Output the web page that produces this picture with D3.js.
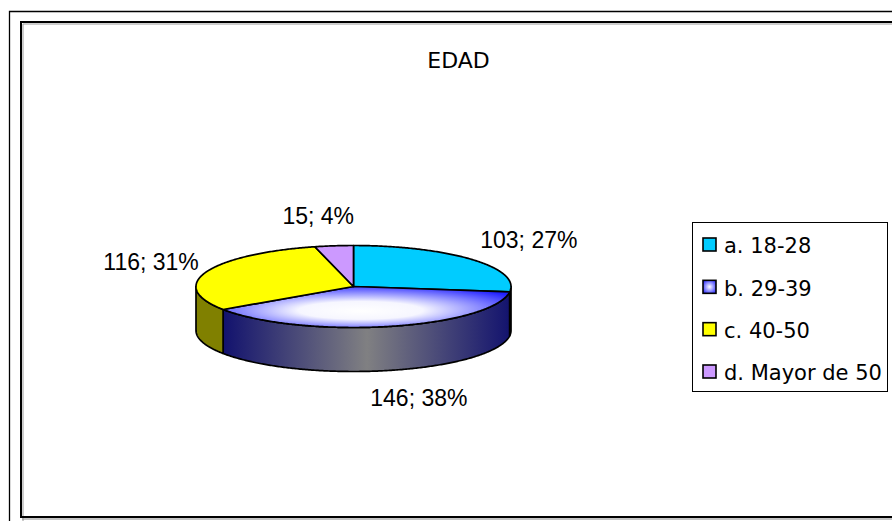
<!DOCTYPE html>
<html>
<head>
<meta charset="utf-8">
<script src="https://cdn.jsdelivr.net/npm/d3@7"></script>
<style>
  html, body { margin: 0; padding: 0; background: #ffffff; }
  svg { display: block; }
</style>
</head>
<body>
<svg id="chart" width="892" height="521"></svg>
<script>
// ---- data ----
const title = "EDAD";
const categories = ["a. 18-28", "b. 29-39", "c. 40-50", "d. Mayor de 50"];
const values = [103, 146, 116, 15];
const topColors = ["#00ccff", "url(#gradBTop)", "#ffff00", "#cc99ff"];
const sideColors = ["#007a99", "url(#gradBSide)", "#808000", "#66507f"];
const legendColors = ["#00ccff", "url(#gradBLegend)", "#ffff00", "#cc99ff"];

// ---- layout ----
const W = 892, H = 521;
const svg = d3.select("#chart");
const cx = 353.5, cy = 286.5, rx = 157.5, ry = 41, depth = 44;

const defs = svg.append("defs");
const gTop = defs.append("radialGradient").attr("id", "gradBTop")
  .attr("cx", 0.48).attr("cy", 0.55).attr("r", 0.62).attr("fx", 0.48).attr("fy", 0.6);
gTop.append("stop").attr("offset", "0%").attr("stop-color", "#ffffff");
gTop.append("stop").attr("offset", "35%").attr("stop-color", "#f6f6ff");
gTop.append("stop").attr("offset", "100%").attr("stop-color", "#2020ff");

const gSide = defs.append("linearGradient").attr("id", "gradBSide")
  .attr("gradientUnits", "userSpaceOnUse")
  .attr("x1", 223).attr("x2", 511).attr("y1", 0).attr("y2", 0);
gSide.append("stop").attr("offset", "0%").attr("stop-color", "#12126e");
gSide.append("stop").attr("offset", "50%").attr("stop-color", "#808082");
gSide.append("stop").attr("offset", "100%").attr("stop-color", "#12126e");

const gLeg = defs.append("radialGradient").attr("id", "gradBLegend")
  .attr("cx", 0.5).attr("cy", 0.5).attr("r", 0.6);
gLeg.append("stop").attr("offset", "0%").attr("stop-color", "#ffffff");
gLeg.append("stop").attr("offset", "100%").attr("stop-color", "#3333ff");

// ---- frames ----
svg.append("path").attr("d", `M9.5,${H} V11.5 H${W}`)
  .attr("fill", "none").attr("stroke", "#000").attr("stroke-width", 1.3);
svg.append("path").attr("d", `M23,${H} V24 H${W}`)
  .attr("fill", "none").attr("stroke", "#9a9a9a").attr("stroke-width", 1);
svg.append("rect").attr("x", 21).attr("y", 22).attr("width", 900).attr("height", 495)
  .attr("fill", "none").attr("stroke", "#000").attr("stroke-width", 2);
svg.append("line").attr("x1", 22).attr("x2", W).attr("y1", 519).attr("y2", 519)
  .attr("stroke", "#8a8a8a").attr("stroke-width", 1);

// ---- title ----
svg.append("text").attr("x", 458.5).attr("y", 68)
  .attr("text-anchor", "middle")
  .attr("font-family", "DejaVu Sans, sans-serif").attr("font-size", 22)
  .attr("fill", "#000").text(title);

// ---- pie ----
const pie = d3.pie().sort(null).value(d => d);
const arcs = pie(values);
const total = d3.sum(values);
const pct = d3.format(".0%");

const px = t => cx + rx * Math.sin(t);
const py = t => cy - ry * Math.cos(t);
const line = d3.line();

function samples(a0, a1) {
  const n = Math.max(2, Math.ceil(Math.abs(a1 - a0) / 0.01));
  return d3.range(n + 1).map(i => a0 + (a1 - a0) * i / n);
}

const gPie = svg.append("g");

// sides (front half only)
arcs.forEach((a, i) => {
  const s = Math.max(a.startAngle, Math.PI / 2);
  const e = Math.min(a.endAngle, 3 * Math.PI / 2);
  if (e <= s) return;
  const topPts = samples(s, e).map(t => [px(t), py(t)]);
  const botPts = samples(e, s).map(t => [px(t), py(t) + depth]);
  gPie.append("path")
    .attr("d", line(topPts.concat(botPts)) + "Z")
    .attr("fill", sideColors[i])
    .attr("stroke", "#000").attr("stroke-width", 1.7).attr("stroke-linejoin", "round");
});

// tops
arcs.forEach((a, i) => {
  const pts = [[cx, cy]].concat(samples(a.startAngle, a.endAngle).map(t => [px(t), py(t)]));
  gPie.append("path")
    .attr("d", line(pts) + "Z")
    .attr("fill", topColors[i])
    .attr("stroke", "#000").attr("stroke-width", 1.7).attr("stroke-linejoin", "round");
});

// labels
arcs.forEach((a, i) => {
  const m = (a.startAngle + a.endAngle) / 2;
  const s = Math.sin(m), c = Math.cos(m);
  let x, anchor;
  if (s > 0.5) { x = cx + (rx + 11) * s; anchor = "start"; }
  else if (s < -0.5) { x = cx + (rx + 8) * s; anchor = "end"; }
  else { x = cx + 285 * s; anchor = "middle"; }
  const y = cy - 71 * c + (c < 0 ? depth - 2 : 0);
  svg.append("text")
    .attr("x", x).attr("y", y).attr("dy", "0.36em")
    .attr("text-anchor", anchor)
    .attr("font-family", "Liberation Sans, Arial, sans-serif").attr("font-size", 23)
    .attr("fill", "#000")
    .text(`${values[i]}; ${pct(values[i] / total)}`);
});

// ---- legend ----
const legend = svg.append("g");
legend.append("rect").attr("x", 692.5).attr("y", 222.5).attr("width", 195).attr("height", 169)
  .attr("fill", "#fff").attr("stroke", "#000").attr("stroke-width", 1);
const ly = d3.scalePoint().domain(categories).range([245, 372]);
categories.forEach((cat, i) => {
  legend.append("rect").attr("x", 703).attr("y", ly(cat) - 7).attr("width", 13).attr("height", 13)
    .attr("fill", legendColors[i]).attr("stroke", "#000").attr("stroke-width", 1.6);
  legend.append("text").attr("x", 724).attr("y", ly(cat) + 8.3)
    .attr("font-family", "DejaVu Sans, sans-serif").attr("font-size", 21)
    .attr("fill", "#000").text(cat);
});
</script>
</body>
</html>
